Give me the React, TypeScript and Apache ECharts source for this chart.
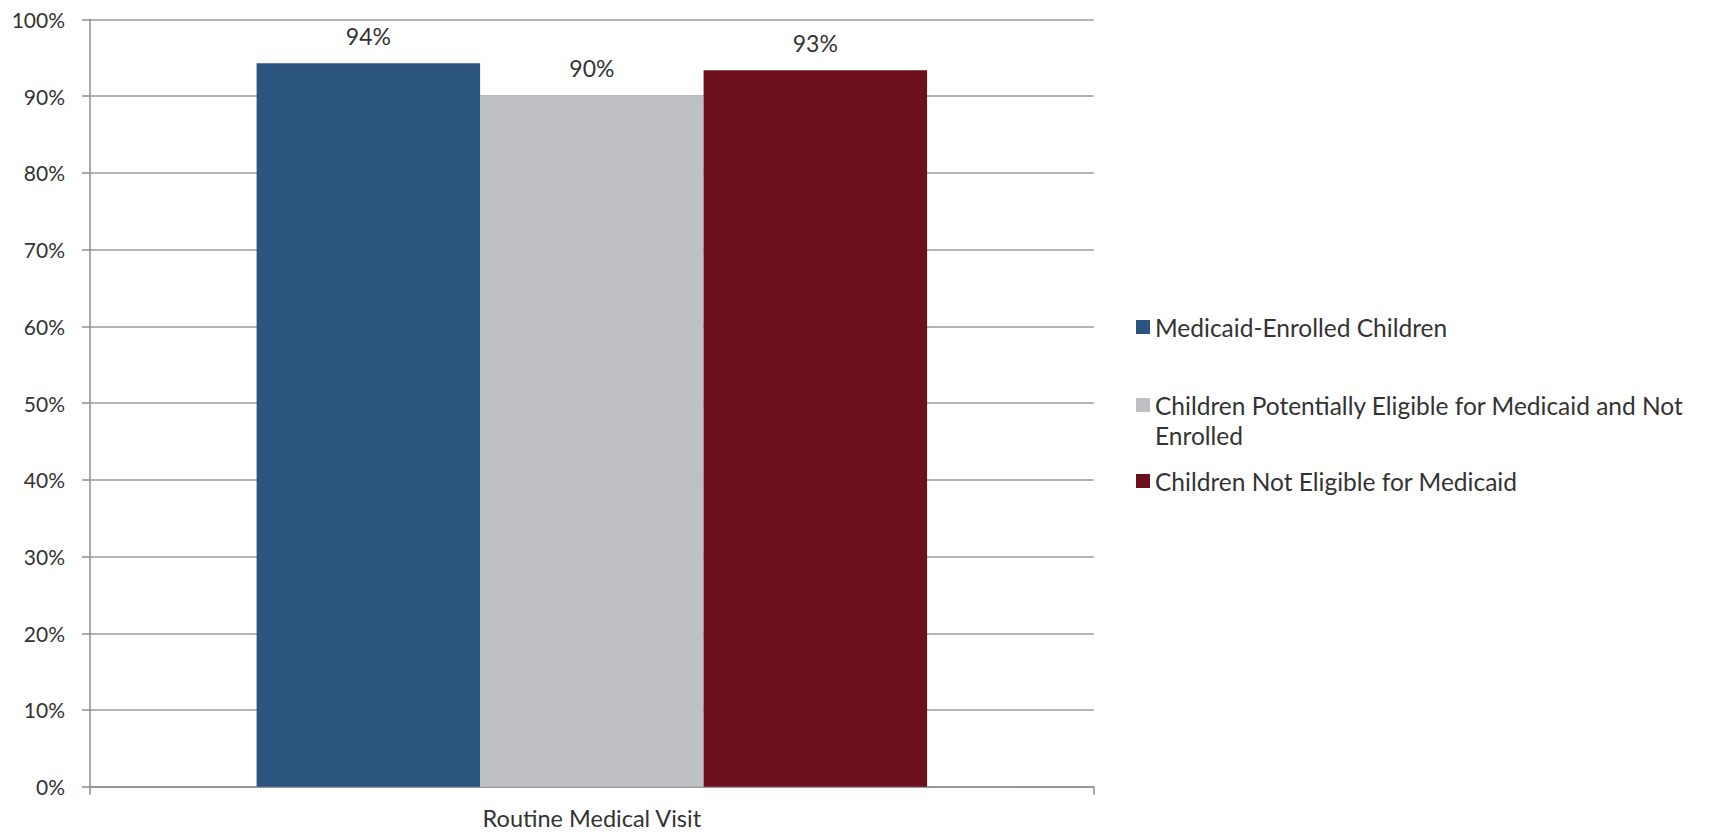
import React, { useEffect, useRef } from "react";
import * as echarts from "echarts";

const categories = ["Routine Medical Visit"];
const seriesNames = [
  "Medicaid-Enrolled Children",
  "Children Potentially Eligible for Medicaid and Not Enrolled",
  "Children Not Eligible for Medicaid",
];
const medicaidEnrolled = [94.3];
const potentiallyEligible = [90.1];
const notEligible = [93.4];
const seriesValues = [medicaidEnrolled, potentiallyEligible, notEligible];
const seriesColors = ["#2B547E", "#BFC0C4", "#6E0F1E"];
const yTicks = { min: 0, max: 100, interval: 10 };

const FONT = "Lato";
const TEXT = "#333333";

export default function App() {
  const ref = useRef<HTMLDivElement>(null);
  useEffect(() => {
    if (!ref.current) return;
    const chart = echarts.init(ref.current, undefined, { renderer: "svg" });
    const legendTops = [312, 360, 466];
    const option: any = {
      animation: false,
      backgroundColor: "#ffffff",
      textStyle: { fontFamily: FONT, color: TEXT },
      grid: { left: 90, top: 19.5, width: 1003.7, height: 767.2, containLabel: false },
      legend: seriesNames.map((name, i) => ({
        show: true,
        orient: "vertical",
        left: 1136,
        top: legendTops[i],
        padding: 0,
        data: [name],
        itemWidth: 14,
        itemHeight: 14,
        icon: "rect",
        selectedMode: false,
        formatter: (n: string) =>
          n === seriesNames[1]
            ? " \nChildren Potentially Eligible for Medicaid and Not\nEnrolled"
            : n,
        textStyle: { fontFamily: FONT, fontSize: 24.5, color: TEXT, lineHeight: 30 },
      })),
      xAxis: {
        type: "category",
        data: categories,
        axisLine: { show: true, lineStyle: { color: "#8F8F8F", width: 1.5 } },
        axisTick: { show: true, length: 8, lineStyle: { color: "#8F8F8F", width: 1.5 } },
        axisLabel: {
          fontFamily: FONT,
          fontSize: 23.5,
          lineHeight: 22,
          color: TEXT,
          margin: 20,
        },
      },
      yAxis: {
        type: "value",
        min: yTicks.min,
        max: yTicks.max,
        interval: yTicks.interval,
        axisLine: { show: true, lineStyle: { color: "#8F8F8F", width: 1.5 } },
        axisTick: { show: true, length: 8, lineStyle: { color: "#8F8F8F", width: 1.5 } },
        splitLine: { show: true, lineStyle: { color: "#9A9A9A", width: 1.5 } },
        axisLabel: {
          fontFamily: FONT,
          fontSize: 21,
          color: TEXT,
          margin: 25,
          formatter: "{value}%",
        },
      },
      series: seriesNames.map((name, i) => ({
        name,
        type: "bar",
        data: seriesValues[i],
        barGap: "0%",
        barCategoryGap: "33.2%",
        itemStyle: { color: seriesColors[i] },
        label: {
          show: true,
          position: "top",
          distance: 16,
          fontFamily: FONT,
          fontSize: 23,
          color: TEXT,
          formatter: (p: any) => Math.round(p.value) + "%",
        },
      })),
    };
    chart.setOption(option);
    return () => chart.dispose();
  }, []);
  return (
    <div
      ref={ref}
      style={{ position: "fixed", left: 0, top: 0, width: 1711, height: 832 }}
    />
  );
}
